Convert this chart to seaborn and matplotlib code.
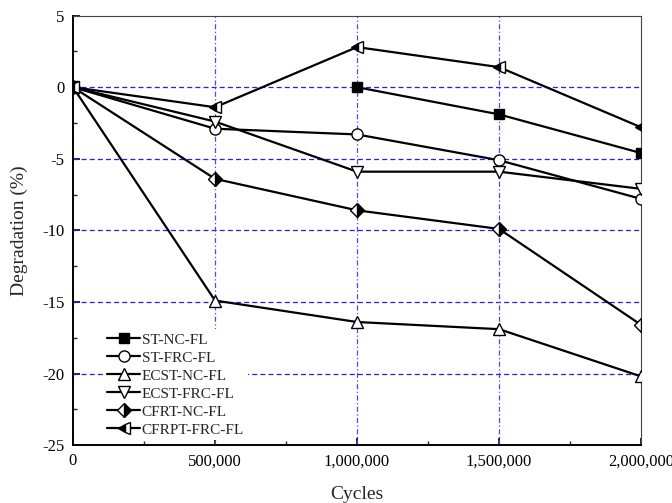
import numpy as np
import pandas as pd
import matplotlib
matplotlib.use("Agg")
import matplotlib.pyplot as plt
import seaborn as sns
from matplotlib.ticker import MultipleLocator, FuncFormatter

cycles = [0, 500000, 1000000, 1500000, 2000000]
series_names = ["ST-NC-FL", "ST-FRC-FL", "ECST-NC-FL", "ECST-FRC-FL", "CFRT-NC-FL", "CFRPT-FRC-FL"]
st_nc = [0, np.nan, 0.0, -1.9, -4.6]
st_frc = [0, -2.9, -3.3, -5.1, -7.8]
ecst_nc = [0, -14.9, -16.4, -16.9, -20.2]
ecst_frc = [0, -2.4, -5.9, -5.9, -7.1]
cfrt_nc = [0, -6.4, -8.6, -9.9, -16.6]
cfrpt_frc = [0, -1.4, 2.8, 1.4, -2.8]
values = [st_nc, st_frc, ecst_nc, ecst_frc, cfrt_nc, cfrpt_frc]

sns.set_theme(style="ticks")
plt.rcParams['font.family'] = ['Liberation Serif', 'DejaVu Serif']

fig = plt.figure(figsize=(6.72, 5.03), dpi=100)
ax = fig.add_axes([0.1086, 0.115, 0.8454, 0.854])

styles = {
    "ST-NC-FL": dict(marker="s", markerfacecolor="black", markersize=7, fillstyle="full"),
    "ST-FRC-FL": dict(marker="o", markerfacecolor="white", markersize=8, fillstyle="full"),
    "ECST-NC-FL": dict(marker="^", markerfacecolor="white", markersize=9, fillstyle="full"),
    "ECST-FRC-FL": dict(marker="v", markerfacecolor="white", markersize=9, fillstyle="full"),
    "CFRT-NC-FL": dict(marker="D", markerfacecolor="black", markerfacecoloralt="white", markersize=7, fillstyle="right"),
    "CFRPT-FRC-FL": dict(marker="<", markerfacecolor="black", markerfacecoloralt="white", markersize=9, fillstyle="left"),
}

# grid
for yv in [0, -5, -10, -15, -20]:
    ax.axhline(yv, color="#2020ff", lw=0.9, ls=(0, (4, 2.5)), zorder=1)
for xv in [500000, 1000000, 1500000]:
    ax.axvline(xv, color="#4848ff", lw=0.9, ls=(0, (4, 2, 1, 2)), zorder=1)

for name, vals in zip(series_names, values):
    df = pd.DataFrame({"Cycles": cycles, "Degradation": vals})
    st = styles[name]
    if np.isnan(vals).any():
        sns.lineplot(data=df.iloc[:1], x="Cycles", y="Degradation", ax=ax, color="black",
                     lw=1.6, markeredgecolor="black", markeredgewidth=1.0, zorder=3, **st)
        sns.lineplot(data=df.iloc[2:], x="Cycles", y="Degradation", ax=ax, color="black",
                     lw=1.6, markeredgecolor="black", markeredgewidth=1.0, zorder=3,
                     label=name, **st)
    else:
        sns.lineplot(data=df, x="Cycles", y="Degradation", ax=ax, color="black",
                     lw=1.6, markeredgecolor="black", markeredgewidth=1.0, zorder=3,
                     label=name, **st)

ax.set_xlim(0, 2000000)
ax.set_ylim(-25, 5)
ax.xaxis.set_major_locator(MultipleLocator(500000))
ax.xaxis.set_minor_locator(MultipleLocator(250000))
ax.yaxis.set_major_locator(MultipleLocator(5))
ax.yaxis.set_minor_locator(MultipleLocator(2.5))
ax.xaxis.set_major_formatter(FuncFormatter(lambda v, p: f"{int(v):,}"))
ax.yaxis.set_major_formatter(FuncFormatter(lambda v, p: f"{int(v)}"))
ax.tick_params(which="major", direction="in", length=5, width=1.2, labelsize=12, colors="black", pad=6)
ax.tick_params(which="minor", direction="in", length=3, width=1.0)
for side in ["left", "bottom"]:
    ax.spines[side].set_linewidth(1.4)
    ax.spines[side].set_color("black")
for side in ["top", "right"]:
    ax.spines[side].set_linewidth(0.8)
    ax.spines[side].set_color("#444444")
ax.set_xlabel("Cycles", fontsize=14, labelpad=12)
ax.set_ylabel("Degradation (%)", fontsize=14, labelpad=10)

leg = ax.legend(loc="upper left", bbox_to_anchor=(0.054, 0.270), frameon=True, fontsize=11,
                handlelength=2.1, handletextpad=0.15, labelspacing=0.28, borderaxespad=0,
                borderpad=0.25, fancybox=False, framealpha=1.0, facecolor="white")
leg.get_frame().set_linewidth(0)
leg.set_zorder(5)

fig.savefig("out.png", dpi=100)
